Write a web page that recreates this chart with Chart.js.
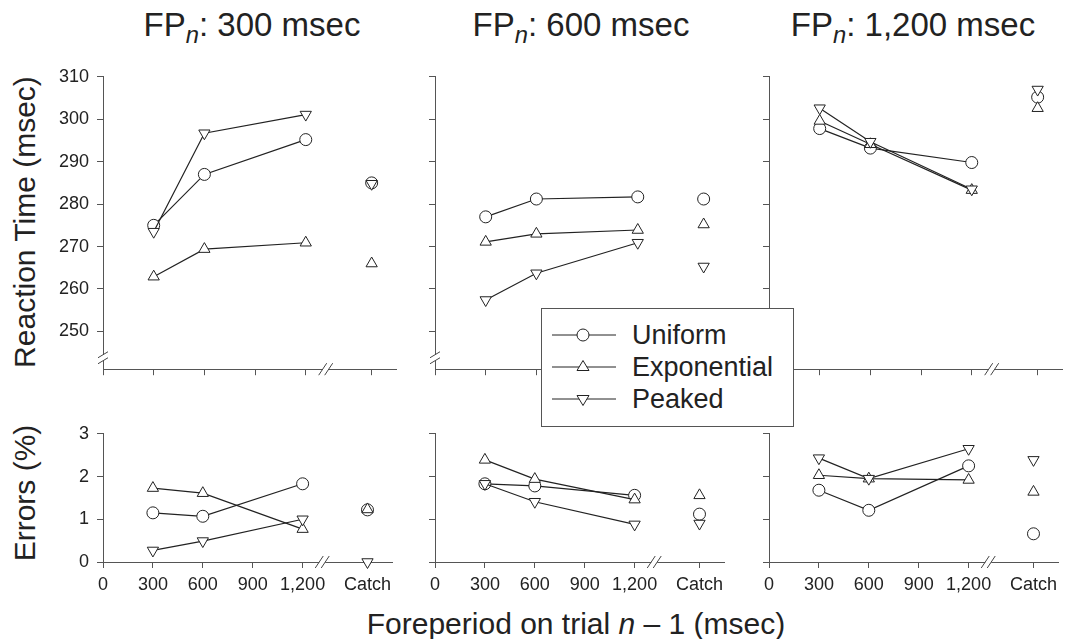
<!DOCTYPE html>
<html>
<head>
<meta charset="utf-8">
<script src="https://cdn.jsdelivr.net/npm/chart.js@4.4.1/dist/chart.umd.min.js"></script>
<style>
  body { margin: 0; background: #fff; width: 1067px; height: 639px; position: relative; overflow: hidden;
         font-family: "Liberation Sans", Arial, sans-serif; color: #222; }
  canvas { position: absolute; }
  .lbl { position: absolute; text-align: center; line-height: 1; white-space: nowrap; }
  .lbl sub { font-size: 0.72em; vertical-align: -0.28em; line-height: 0; }
  .rot { transform: rotate(-90deg); }
  #legend { position: absolute; left: 541px; top: 308px; width: 251px; height: 117px; border: 1px solid #555;
            background: #fff; z-index: 5; font-size: 27px; }
  #legend div { position: absolute; left: 10px; height: 30px; display: flex; align-items: center; }
  #legend svg { margin-right: 16px; }
</style>
</head>
<body>
<div class="lbl" style="left:102px;top:8px;width:300px;font-size:33px">FP<sub><i>n</i></sub>: 300 msec</div>
<div class="lbl" style="left:431px;top:8px;width:300px;font-size:33px">FP<sub><i>n</i></sub>: 600 msec</div>
<div class="lbl" style="left:763px;top:8px;width:300px;font-size:33px">FP<sub><i>n</i></sub>: 1,200 msec</div>
<div class="lbl rot" style="left:-175px;top:207px;width:400px;height:30px;font-size:30px">Reaction Time (msec)</div>
<div class="lbl rot" style="left:-175px;top:478px;width:400px;height:30px;font-size:30px">Errors (%)</div>
<div class="lbl" style="left:276px;top:609px;width:600px;font-size:30px">Foreperiod on trial <i>n</i> – 1 (msec)</div>
<div id="legend"></div>

<canvas id="c0"></canvas><canvas id="c1"></canvas><canvas id="c2"></canvas>
<canvas id="c3"></canvas><canvas id="c4"></canvas><canvas id="c5"></canvas>

<script>
// previous foreperiod (x categories) and FP on current trial (panels)
const fpPrev = [300, 600, 1200, 'Catch'];
const fpCurrent = ['300', '600', '1,200'];
const seriesNames = ['Uniform', 'Exponential', 'Peaked'];
const xTickValues = [0, 300, 600, 900, 1200, 1590];
const xTickLabels = ['0', '300', '600', '900', '1,200', 'Catch'];
const rtTicks = [250, 260, 270, 280, 290, 300, 310];
const errTicks = [0, 1, 2, 3];

// reaction time (msec), one row per FPn panel: 300, 600, 1200, catch
const rtUniform = [
  [275.0, 287.0, 295.2, 285.0],
  [277.0, 281.2, 281.7, 281.2],
  [297.8, 293.2, 289.8, 305.2]
];
const rtExponential = [
  [262.9, 269.4, 270.9, 266.0],
  [271.1, 273.0, 273.9, 275.2],
  [299.6, 294.1, 283.3, 302.6]
];
const rtPeaked = [
  [273.5, 296.7, 301.1, 284.8],
  [257.4, 263.7, 270.9, 265.3],
  [302.6, 294.7, 283.5, 307.0]
];

// errors (%)
const errUniform = [
  [1.15, 1.07, 1.83, 1.22],
  [1.83, 1.78, 1.56, 1.12],
  [1.68, 1.21, 2.25, 0.66]
];
const errExponential = [
  [1.73, 1.61, 0.77, 1.23],
  [2.39, 1.94, 1.46, 1.56],
  [2.03, 1.95, 1.92, 1.64]
];
const errPeaked = [
  [0.27, 0.49, 1.00, 0.00],
  [1.83, 1.41, 0.88, 0.90],
  [2.43, 1.95, 2.65, 2.39]
];

const CATCH_X = 1590;
const FONT = '"Liberation Sans", Arial, sans-serif';
const markers = [
  { pointStyle: 'circle', rotation: 0, radius: 6 },
  { pointStyle: 'triangle', rotation: 0, radius: 6.5 },
  { pointStyle: 'triangle', rotation: 180, radius: 6.5 }
];

// legend (html)
const legend = document.getElementById('legend');
const icons = [
  '<circle cx="31" cy="15" r="6" fill="#fff" stroke="#222"/>',
  '<polygon points="31,8.5 37,18.5 25,18.5" fill="#fff" stroke="#222"/>',
  '<polygon points="31,21.5 37,11.5 25,11.5" fill="#fff" stroke="#222"/>'
];
seriesNames.forEach((name, i) => {
  const row = document.createElement('div');
  row.style.top = (11 + i * 32) + 'px';
  row.innerHTML = '<svg width="64" height="30"><line x1="0" y1="15" x2="64" y2="15" stroke="#222" stroke-width="1"/>' +
    icons[i] + '</svg>' + name;
  legend.appendChild(row);
});

// axis break marks
const breakMarks = {
  id: 'breakMarks',
  afterDraw(chart, args, opts) {
    const { ctx, chartArea: a, scales } = chart;
    ctx.save();
    ctx.strokeStyle = '#444';
    ctx.lineWidth = 1;
    ctx.fillStyle = '#fff';
    const bx = scales.x.getPixelForValue(opts.xBreak);
    ctx.fillRect(bx - 3, a.bottom - 2, 6, 4);
    ctx.beginPath();
    [-3, 3].forEach(d => { ctx.moveTo(bx + d - 4, a.bottom + 6); ctx.lineTo(bx + d + 4, a.bottom - 6); });
    ctx.stroke();
    if (opts.yBreak != null) {
      const by = scales.y.getPixelForValue(opts.yBreak);
      ctx.fillRect(a.left - 2, by - 3, 4, 6);
      ctx.beginPath();
      [-3, 3].forEach(d => { ctx.moveTo(a.left - 5, by + d + 3); ctx.lineTo(a.left + 5, by + d - 3); });
      ctx.stroke();
    }
    ctx.restore();
  }
};

const xOf = i => fpPrev[i] === 'Catch' ? CATCH_X : fpPrev[i];

function makePanel(id, left, top, height, xAxisH, rows, col, yMin, yMax, yTicks, isTop) {
  const cv = document.getElementById(id);
  cv.width = 354; cv.height = height;
  cv.style.left = left + 'px'; cv.style.top = top + 'px';
  const datasets = rows.map((series, s) => ({
    label: seriesNames[s],
    order: 3 - s,
    data: series[col].map((v, i) => ({ x: xOf(i), y: v })),
    showLine: true,
    borderColor: '#222',
    borderWidth: 1.2,
    backgroundColor: '#fff',
    pointBackgroundColor: '#fff',
    pointBorderColor: '#222',
    pointBorderWidth: 1,
    pointStyle: markers[s].pointStyle,
    pointRotation: markers[s].rotation,
    pointRadius: markers[s].radius,
    clip: false,
    segment: { borderColor: c => c.p1DataIndex === 3 ? 'rgba(0,0,0,0)' : '#222' }
  }));
  const showY = col === 0;
  new Chart(cv, {
    type: 'scatter',
    data: { datasets },
    options: {
      responsive: false,
      animation: false,
      events: [],
      layout: { padding: { top: 10, right: 0, bottom: 0, left: 0 }, autoPadding: false },
      plugins: {
        legend: { display: false },
        tooltip: { enabled: false },
        breakMarks: { xBreak: 1318, yBreak: isTop ? 243.8 : null }
      },
      scales: {
        x: {
          type: 'linear', min: 0, max: 1740,
          afterBuildTicks: s => { s.ticks = xTickValues.map(v => ({ value: v })); },
          afterFit: s => { s.height = xAxisH; },
          ticks: {
            autoSkip: false, maxRotation: 0, padding: 6,
            color: '#222', font: { family: FONT, size: 18 },
            callback: (v, i) => isTop ? '' : xTickLabels[i]
          },
          grid: { drawOnChartArea: false, tickLength: 6, color: '#555' },
          border: { color: '#555' }
        },
        y: {
          type: 'linear', min: yMin, max: yMax,
          afterBuildTicks: s => { s.ticks = yTicks.map(v => ({ value: v })); },
          afterFit: s => { s.width = 60; },
          ticks: {
            autoSkip: false, padding: 8,
            color: '#222', font: { family: FONT, size: 18 },
            callback: v => showY ? String(v) : ''
          },
          grid: { drawOnChartArea: false, tickLength: 6, color: '#555' },
          border: { color: '#555' }
        }
      }
    },
    plugins: [breakMarks]
  });
}

const colLeft = [42.7, 375, 709];
const rtRows = [rtUniform, rtExponential, rtPeaked];
const errRows = [errUniform, errExponential, errPeaked];
fpCurrent.forEach((fp, col) => {
  makePanel('c' + col, colLeft[col], 58, 330, 10, rtRows, col, 241.1, 310, rtTicks, true);
  makePanel('c' + (col + 3), colLeft[col], 415, 187, 40, errRows, col, 0, 3, errTicks, false);
});
</script>
</body>
</html>
